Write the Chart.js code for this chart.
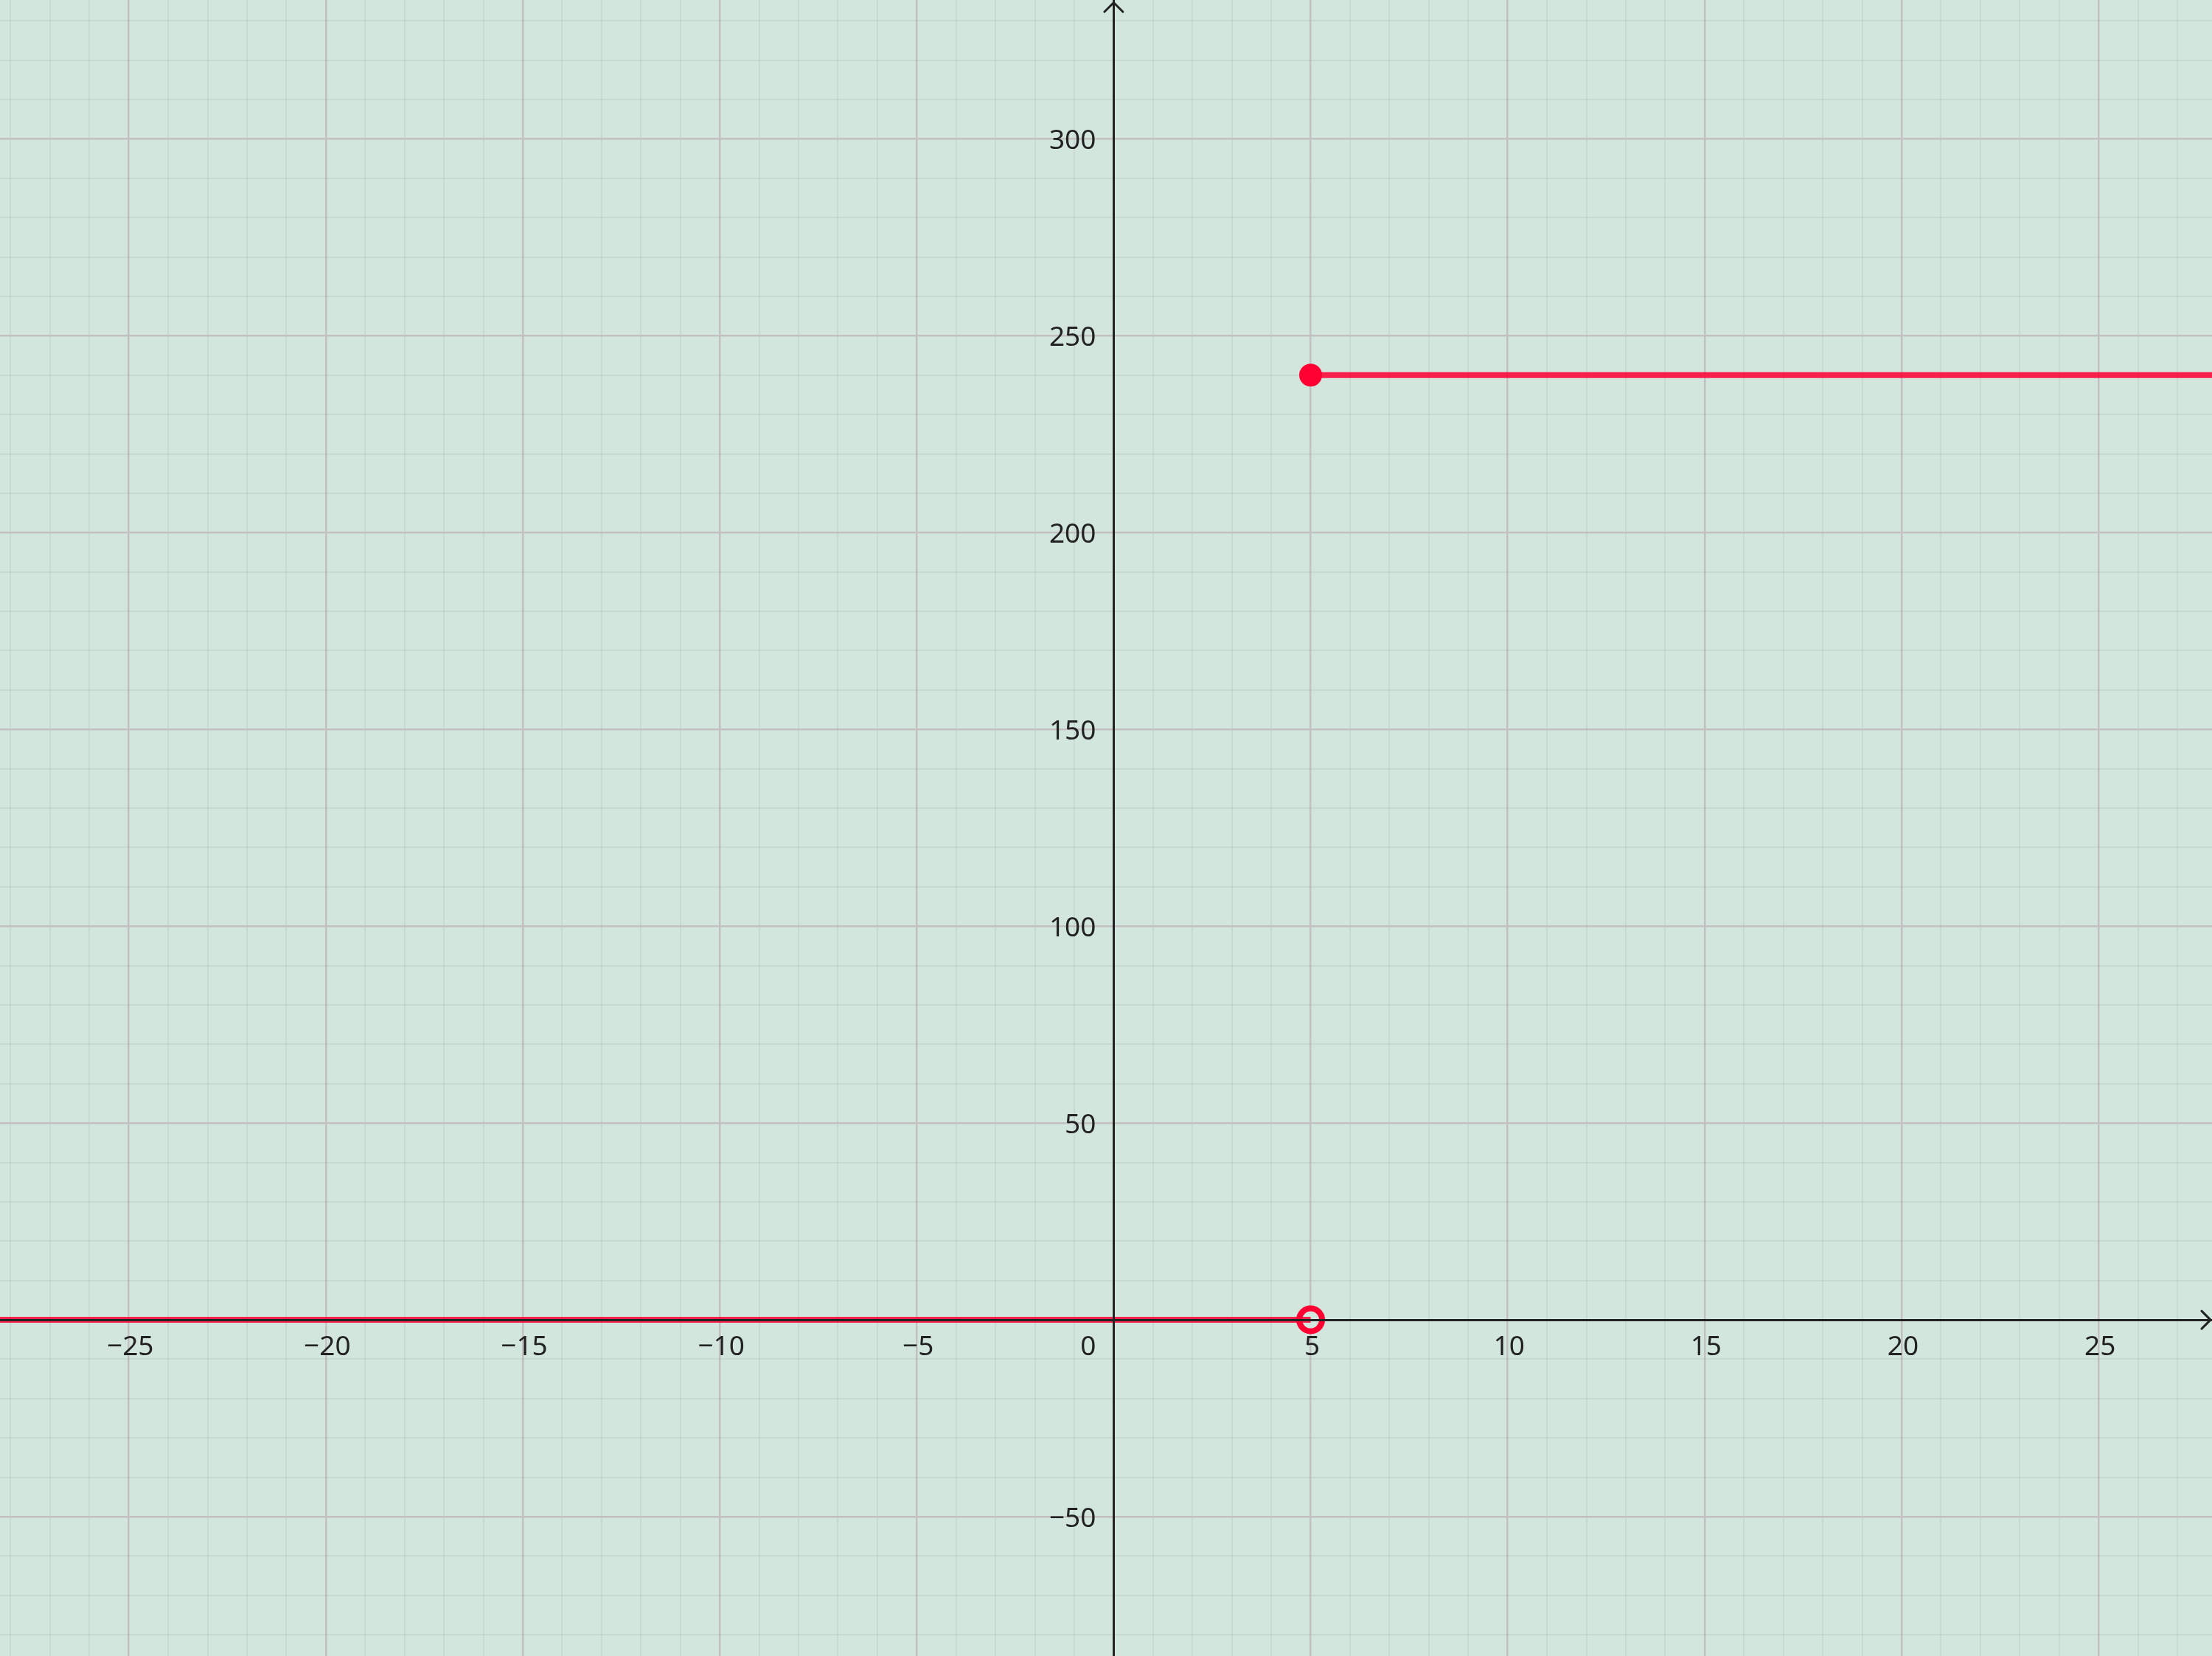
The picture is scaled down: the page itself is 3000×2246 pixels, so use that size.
<!DOCTYPE html>
<html>
<head>
<meta charset="utf-8">
<script src="https://cdn.jsdelivr.net/npm/chart.js@4/dist/chart.umd.min.js"></script>
<style>
  html, body { margin: 0; padding: 0; background: #d2e6dd; }
  #c { display: block; }
</style>
</head>
<body>
<canvas id="c" width="3000" height="2246"></canvas>
<script>
// ---- data ----
const xRange = [-28.27, 27.88];
const yRange = [-85.4, 335.3];
const xMinorStep = 1;
const xMajorStep = 5;
const yMinorStep = 10;
const yMajorStep = 50;
const xTickValues = [-25, -20, -15, -10, -5, 5, 10, 15, 20, 25];
const yTickValues = [-50, 50, 100, 150, 200, 250, 300];
const originLabel = '0';
// step function: y = 0 for x < 5, y = 240 for x >= 5
const lowerX = [-30, 5];
const lowerY = [0, 0];
const upperX = [5, 30];
const upperY = [240, 240];
const closedPointX = [5];
const closedPointY = [240];
const openPointX = [5];
const openPointY = [0];

// ---- styles ----
const BG = '#d2e6dd';
const RED = '#ff0033';
const LINE_RED = 'rgba(255,0,51,0.86)';
const MAJOR_GRID = '#c2c0c0';
const MINOR_GRID = 'rgba(120,140,130,0.13)';
const AXIS = '#222222';
const FONT = '37px "Noto Sans", "DejaVu Sans", sans-serif';

function pts(xs, ys) { return xs.map((x, i) => ({ x: x, y: ys[i] })); }
function fmt(v) { return v < 0 ? '\u2212' + Math.abs(v) : String(v); }
function isMult(v, s) { const r = v / s; return Math.abs(r - Math.round(r)) < 1e-6; }

function gridTicks(lo, hi, step) {
  const out = [];
  for (let k = Math.ceil(lo / step); k * step <= hi; k++) out.push({ value: k * step });
  return out;
}

function gridColor(step) {
  return (ctx) => {
    const v = ctx.tick ? ctx.tick.value : 0;
    if (Math.abs(v) < 1e-9) return 'rgba(0,0,0,0)';
    return isMult(v, step) ? MAJOR_GRID : MINOR_GRID;
  };
}
function gridWidth(step) {
  return (ctx) => {
    const v = ctx.tick ? ctx.tick.value : 0;
    return isMult(v, step) ? 2.5 : 2;
  };
}

const bgPlugin = {
  id: 'bg',
  beforeDraw(chart) {
    const c = chart.ctx;
    c.save();
    c.fillStyle = BG;
    c.fillRect(0, 0, chart.width, chart.height);
    c.restore();
  }
};

const labelPlugin = {
  id: 'axisLabels',
  afterDraw(chart) {
    const c = chart.ctx;
    const xs = chart.scales.x, ys = chart.scales.y;
    const x0 = xs.getPixelForValue(0);
    const y0 = ys.getPixelForValue(0);
    const area = chart.chartArea;
    c.save();
    // arrows
    c.strokeStyle = AXIS;
    c.lineWidth = 3;
    c.lineCap = 'round';
    c.lineJoin = 'round';
    c.beginPath();
    c.moveTo(x0 - 12.5, area.top + 16);
    c.lineTo(x0, area.top + 3.5);
    c.lineTo(x0 + 12.5, area.top + 16);
    c.stroke();
    c.beginPath();
    c.moveTo(area.right - 14, y0 - 12);
    c.lineTo(area.right - 2, y0);
    c.lineTo(area.right - 14, y0 + 12);
    c.stroke();
    // tick labels
    c.fillStyle = AXIS;
    c.font = FONT;
    c.textBaseline = 'alphabetic';
    c.textAlign = 'center';
    xTickValues.forEach(v => {
      c.fillText(fmt(v), xs.getPixelForValue(v) + 2, y0 + 48);
    });
    c.textAlign = 'right';
    c.fillText(originLabel, x0 - 24, y0 + 48);
    yTickValues.forEach(v => {
      c.fillText(fmt(v), x0 - 24, ys.getPixelForValue(v) + 13.5);
    });
    c.restore();
  }
};

new Chart(document.getElementById('c'), {
  type: 'scatter',
  data: {
    datasets: [
      { // open circle, fill hides axis; drawn first
        data: pts(openPointX, openPointY),
        showLine: false,
        pointRadius: 15.5,
        pointBorderWidth: 8,
        pointBackgroundColor: BG,
        pointBorderColor: RED,
        order: 3
      },
      {
        data: pts(lowerX, lowerY),
        showLine: true,
        borderColor: LINE_RED,
        borderWidth: 8,
        pointRadius: 0,
        tension: 0,
        order: 2
      },
      {
        data: pts(upperX, upperY),
        showLine: true,
        borderColor: LINE_RED,
        borderWidth: 8,
        pointRadius: 0,
        tension: 0,
        order: 2
      },
      {
        data: pts(closedPointX, closedPointY),
        showLine: false,
        pointRadius: 15.5,
        pointBorderWidth: 0,
        pointBackgroundColor: RED,
        pointBorderColor: RED,
        order: 1
      }
    ]
  },
  options: {
    responsive: false,
    devicePixelRatio: 1,
    animation: false,
    layout: { padding: 0, autoPadding: false },
    plugins: { legend: { display: false }, tooltip: { enabled: false } },
    scales: {
      x: {
        type: 'linear',
        min: xRange[0],
        max: xRange[1],
        position: { y: 0 },
        afterBuildTicks: (s) => { s.ticks = gridTicks(xRange[0], xRange[1], xMinorStep); },
        ticks: { display: false, autoSkip: false },
        grid: { drawTicks: false, color: gridColor(xMajorStep), lineWidth: gridWidth(xMajorStep) },
        border: { display: true, color: AXIS, width: 3, z: 1 }
      },
      y: {
        type: 'linear',
        min: yRange[0],
        max: yRange[1],
        position: { x: 0 },
        afterBuildTicks: (s) => { s.ticks = gridTicks(yRange[0], yRange[1], yMinorStep); },
        ticks: { display: false, autoSkip: false },
        grid: { drawTicks: false, color: gridColor(yMajorStep), lineWidth: gridWidth(yMajorStep) },
        border: { display: true, color: AXIS, width: 3, z: 1 }
      }
    }
  },
  plugins: [bgPlugin, labelPlugin]
});
</script>
</body>
</html>
